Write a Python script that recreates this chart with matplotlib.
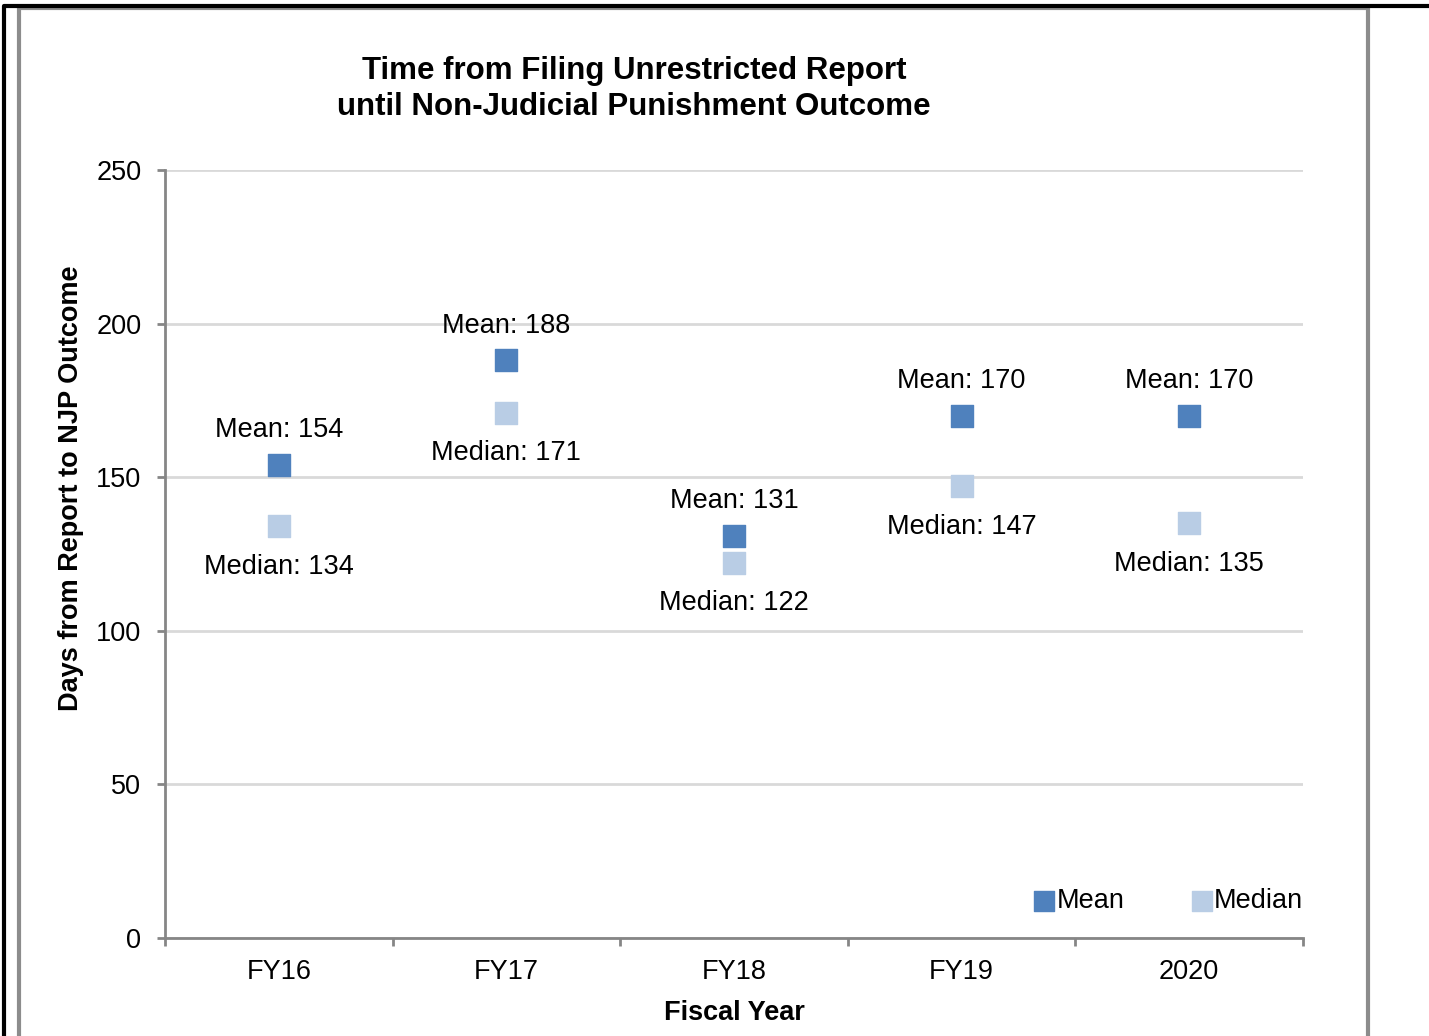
import numpy as np
import matplotlib.pyplot as plt
from matplotlib.lines import Line2D

plt.rcParams['font.family'] = ['Liberation Sans', 'DejaVu Sans']

years = ['FY16', 'FY17', 'FY18', 'FY19', '2020']
mean_days = [154, 188, 131, 170, 170]
median_days = [134, 171, 122, 147, 135]

MEAN_C = '#4F81BD'
MEDIAN_C = '#B9CDE5'
AXIS_C = '#868686'
FS = 19.5

fig = plt.figure(figsize=(14.29, 10.36), dpi=100)
ax = fig.add_axes([0.1155, 0.0946, 0.7963, 0.7413])

x = np.arange(len(years))
ax.scatter(x, mean_days, marker='s', s=230, color=MEAN_C, zorder=3, label='Mean')
ax.scatter(x, median_days, marker='s', s=230, color=MEDIAN_C, zorder=3, label='Median')

for xi, m, md in zip(x, mean_days, median_days):
    ax.annotate(f'Mean: {m}', (xi, m), xytext=(0, 25), textcoords='offset points',
                ha='center', va='center', fontsize=FS)
    ax.annotate(f'Median: {md}', (xi, md), xytext=(0, -29), textcoords='offset points',
                ha='center', va='center', fontsize=FS)

ax.set_xlim(-0.5, len(years) - 0.5)
ax.set_ylim(0, 250)
ax.set_yticks(range(0, 251, 50))
ax.set_xticks(np.arange(-0.5, len(years), 1.0))
ax.set_xticklabels([])
ax.set_xticks(x, minor=True)
ax.set_xticklabels(years, minor=True)
ax.tick_params(axis='x', which='minor', length=0, pad=15, labelsize=FS)
ax.tick_params(axis='x', which='major', length=6, color=AXIS_C, width=2, direction='out')
ax.tick_params(axis='y', length=6, color=AXIS_C, width=2, pad=11, labelsize=FS)

ax.grid(axis='y', color='#D9D9D9', linewidth=2)
ax.set_axisbelow(True)
for s in ['top', 'right']:
    ax.spines[s].set_visible(False)
for s in ['left', 'bottom']:
    ax.spines[s].set_color(AXIS_C)
    ax.spines[s].set_linewidth(2)

ax.set_xlabel('Fiscal Year', fontsize=FS, fontweight='bold', labelpad=11)
ax.set_ylabel('Days from Report to NJP Outcome', fontsize=FS, fontweight='bold')
ax.yaxis.set_label_coords(-0.071, 0.585)

fig.text(0.4437, 0.914, 'Time from Filing Unrestricted Report\nuntil Non-Judicial Punishment Outcome',
         ha='center', va='center', fontsize=22.5, fontweight='bold', linespacing=1.27)

ax.legend(loc='center right', bbox_to_anchor=(1.0, 0.048), ncol=2, frameon=False,
          fontsize=FS, handlelength=0.7, handletextpad=0.1, columnspacing=2.5,
          borderpad=0, borderaxespad=0, markerscale=0.95)

# outer frames
W, H = 1429, 1036
fig.add_artist(Line2D([19 / W, 19 / W, 1368 / W, 1368 / W], [0, 1 - 8 / H, 1 - 8 / H, 0],
                      color='#8C8C8C', linewidth=3, transform=fig.transFigure))
fig.add_artist(Line2D([4 / W, 4 / W, 1], [0, 1 - 6 / H, 1 - 6 / H],
                      color='black', linewidth=3, transform=fig.transFigure))

fig.savefig('out.png', dpi=100)
